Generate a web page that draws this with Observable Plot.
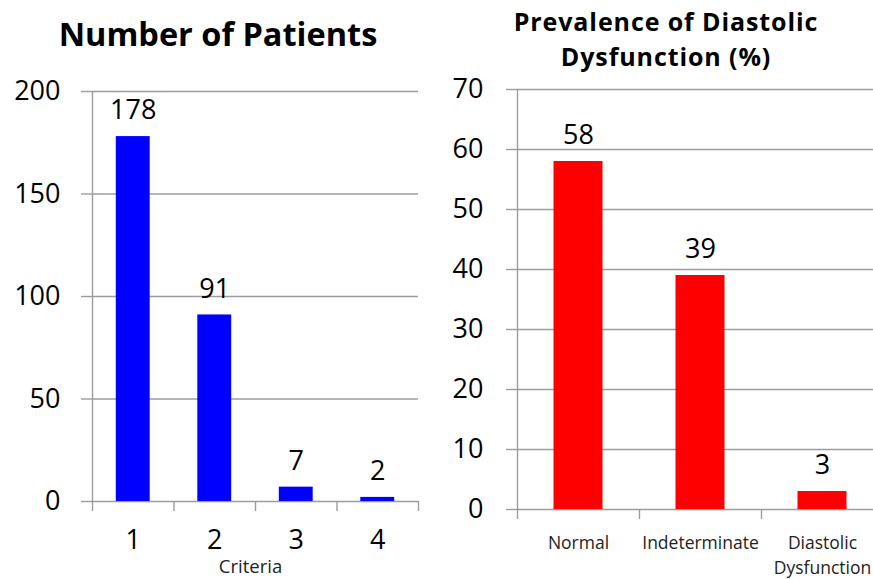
<!DOCTYPE html>
<html>
<head>
<meta charset="utf-8">
<script src="https://cdn.jsdelivr.net/npm/d3@7"></script>
<script src="https://cdn.jsdelivr.net/npm/@observablehq/plot@0.6"></script>
<style>
  html, body { margin: 0; padding: 0; background: #fff; overflow: hidden; }
  #root { position: relative; width: 873px; height: 579px; overflow: hidden; font-family: "Open Sans", sans-serif; }
  .chart { position: absolute; top: 0; }
  .title { position: absolute; font-weight: bold; color: #000; text-align: center; white-space: nowrap; overflow: visible; }
</style>
</head>
<body>
<div id="root"></div>
<script>
// ---- data ----
const criteria = ["1", "2", "3", "4"];
const patients = [178, 91, 7, 2];
const leftTicks = [0, 50, 100, 150, 200];

const groups = ["Normal", "Indeterminate", "Diastolic\nDysfunction"];
const prevalence = [58, 39, 3];
const rightTicks = [0, 10, 20, 30, 40, 50, 60, 70];

const leftTitle = ["Number of Patients"];
const rightTitle = ["Prevalence of Diastolic", "Dysfunction (%)"];
const leftXLabel = "Criteria";

const GRAY = "#9c9c9c";
const FONT = "'Open Sans', sans-serif";

function makeChart({cats, values, ticks, color, width, height, mt, mb, ml, mr, inset, catFont, catDy, catLineHeight, tickPad, extraMarks = []}) {
  const data = cats.map((c, i) => ({i, cat: c, value: values[i]}));
  const n = cats.length;
  return Plot.plot({
    width, height,
    marginTop: mt, marginBottom: mb, marginLeft: ml, marginRight: mr,
    style: {fontFamily: FONT, background: "transparent", color: "#000"},
    x: {domain: [0, n], axis: null},
    y: {domain: [ticks[0], ticks[ticks.length - 1]], axis: null},
    marks: [
      Plot.gridY(ticks, {stroke: GRAY, strokeOpacity: 1, strokeWidth: 1.4}),
      Plot.axisY(ticks, {tickSize: 11, tickPadding: tickPad, fontSize: 27, stroke: GRAY, strokeWidth: 1.4, fill: "#000", label: null}),
      Plot.axisX(d3.range(n + 1), {tickSize: 10, tickFormat: () => "", stroke: GRAY, strokeWidth: 1.4, label: null}),
      Plot.ruleX([0], {stroke: GRAY, strokeWidth: 1.4}),
      Plot.rectY(data, {x1: d => d.i, x2: d => d.i + 1, y: "value", insetLeft: inset, insetRight: inset, fill: color}),
      Plot.text(data, {x: d => d.i + 0.5, y: "value", text: d => String(d.value), dy: -26, fontSize: 27, fill: "#000"}),
      Plot.text(data, {x: d => d.i + 0.5, text: "cat", frameAnchor: "bottom", lineAnchor: "top", dy: catDy, fontSize: catFont, lineHeight: catLineHeight, fill: catFont > 20 ? "#000" : "#222"}),
      ...extraMarks
    ]
  });
}

const root = document.getElementById("root");

const left = makeChart({
  cats: criteria, values: patients, ticks: leftTicks, color: "#0000ff",
  width: 440, height: 579, mt: 91, mb: 78, ml: 92, mr: 22, inset: 23.8,
  catFont: 27, catDy: 28, catLineHeight: 1, tickPad: 21,
  extraMarks: [Plot.text([leftXLabel], {frameAnchor: "bottom", dx: -5, dy: 71, fontSize: 18.5, fill: "#222"})]
});
left.classList.add("chart");
left.style.left = "0px";
root.appendChild(left);

const right = makeChart({
  cats: groups, values: prevalence, ticks: rightTicks, color: "#ff0000",
  width: 453, height: 579, mt: 89, mb: 70, ml: 77, mr: 10, inset: 36.5,
  catFont: 17.5, catDy: 21, catLineHeight: 1.45, tickPad: 23
});
right.classList.add("chart");
right.style.left = "440px";
root.appendChild(right);

function addTitle(lines, cx, top, size, lh, ls) {
  lines.forEach((t, k) => {
    const d = document.createElement("div");
    d.className = "title";
    d.style.fontSize = size + "px";
    d.style.lineHeight = lh + "px";
    d.style.height = lh + "px";
    d.style.letterSpacing = ls + "px";
    d.style.top = (top + k * lh) + "px";
    d.style.left = (cx - 300) + "px";
    d.style.width = "600px";
    d.textContent = t;
    root.appendChild(d);
  });
}
addTitle(leftTitle, 218, 14, 32.5, 40, 0);
addTitle(rightTitle, 666, 4, 25, 34.5, 0.9);
</script>
</body>
</html>
